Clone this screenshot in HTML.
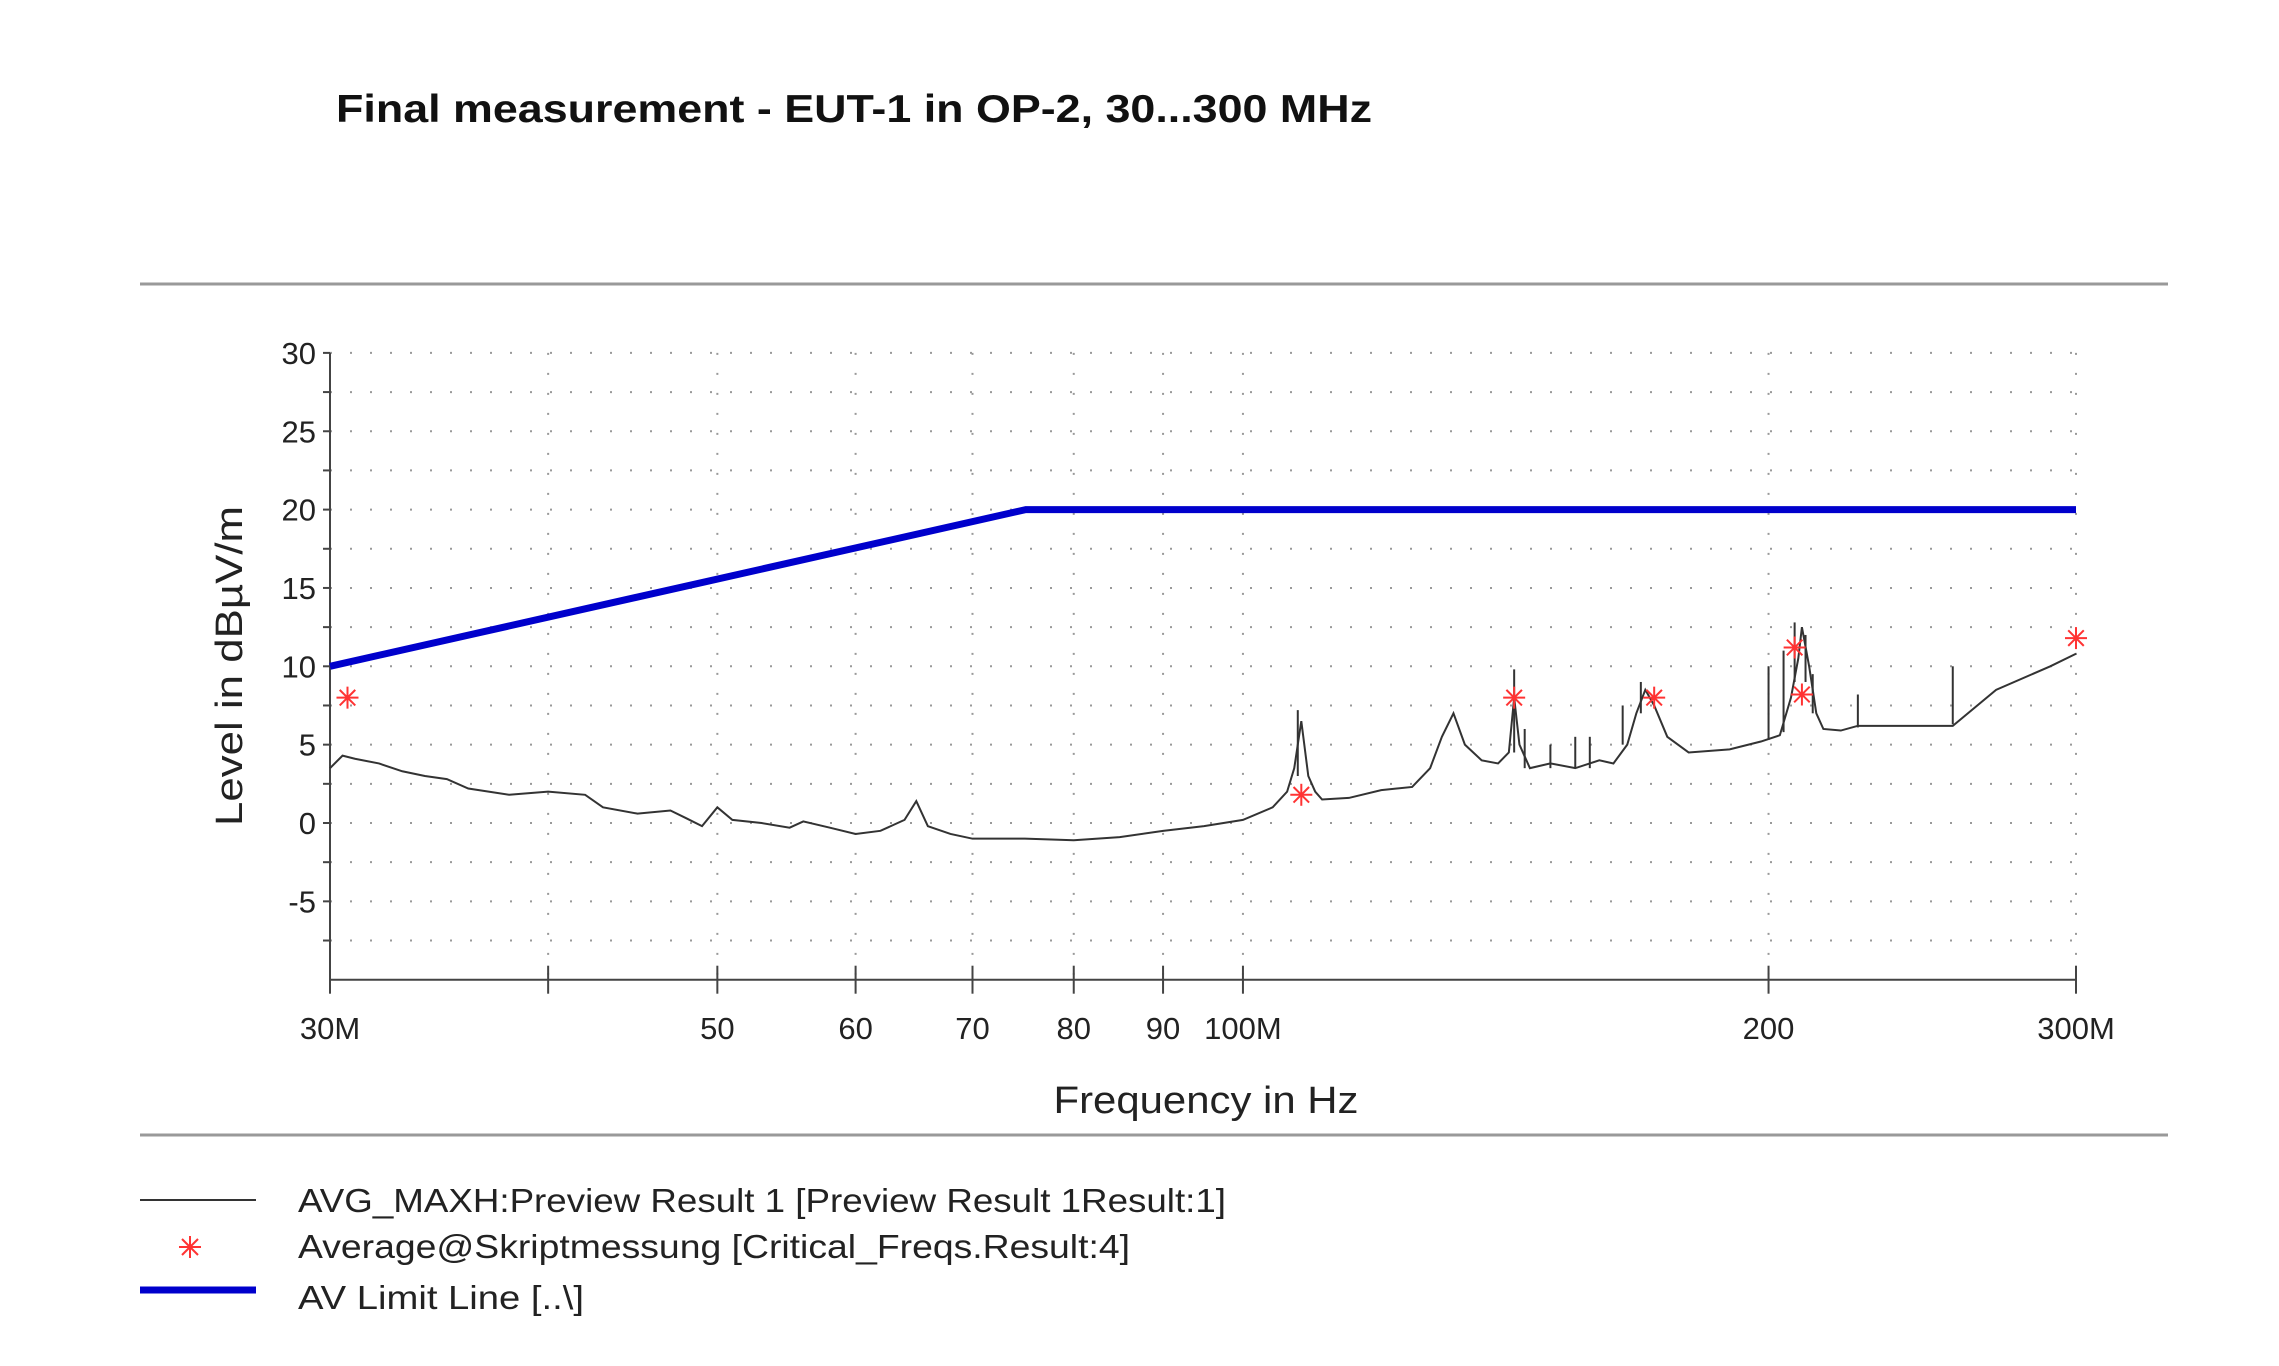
<!DOCTYPE html>
<html><head><meta charset="utf-8"><style>
html,body{margin:0;padding:0;background:#fff;}
svg{display:block;font-family:"Liberation Sans",sans-serif;}
</style></head><body>
<svg id="chart" width="2279" height="1366" viewBox="0 0 2279 1366">
<text x="336" y="122" font-size="39" font-weight="bold" fill="#111" textLength="1036" lengthAdjust="spacingAndGlyphs">Final measurement - EUT-1 in OP-2, 30...300 MHz</text>
<line x1="140" y1="284" x2="2168" y2="284" stroke="#999" stroke-width="3"/>
<line x1="140" y1="1135" x2="2168" y2="1135" stroke="#999" stroke-width="3"/>
<g id="grid"></g>
<g id="axes"></g>
<g id="series"></g>
<text x="1206" y="1113" font-size="38" text-anchor="middle" fill="#222" textLength="305" lengthAdjust="spacingAndGlyphs">Frequency in Hz</text>
<text transform="translate(242,666) rotate(-90)" font-size="38" text-anchor="middle" fill="#222" textLength="320" lengthAdjust="spacingAndGlyphs">Level in dBµV/m</text>
<g>
<line x1="140" y1="1200" x2="256" y2="1200" stroke="#333" stroke-width="2"/>
<text x="298" y="1212" font-size="33" fill="#222" textLength="928" lengthAdjust="spacingAndGlyphs">AVG_MAXH:Preview Result 1  [Preview Result 1Result:1]</text>
<g transform="translate(190,1247)" stroke="#f33" stroke-width="2">
<line x1="-11" y1="0" x2="11" y2="0"/><line x1="0" y1="-11" x2="0" y2="11"/><line x1="-8" y1="-8" x2="8" y2="8"/><line x1="-8" y1="8" x2="8" y2="-8"/>
</g>
<text x="298" y="1258" font-size="33" fill="#222" textLength="832" lengthAdjust="spacingAndGlyphs">Average@Skriptmessung  [Critical_Freqs.Result:4]</text>
<line x1="140" y1="1290" x2="256" y2="1290" stroke="#0000cc" stroke-width="7"/>
<text x="298" y="1309" font-size="33" fill="#222" textLength="286" lengthAdjust="spacingAndGlyphs">AV Limit Line  [..\]</text>
</g>
</svg>
<script>
const yTicks=[30,25,20,15,10,5,0,-5];
const xTickFreqs=[30,40,50,60,70,80,90,100,200,300];
const xTickLabels=["30M","","50","60","70","80","90","100M","200","300M"];
const traceFreqs=[30,30.5,31,32,33,34,35,36,38,40,42,43,45,47,48,49,50,51,53,55,56,58,60,62,64,65,66,68,70,75,80,85,90,95,100,104,106,107,108,109,110,111,115,120,125,128,130,132,134,137,140,142,143,144,146,150,155,160,163,166,168,170,172,175,180,190,198,203,206,208,209,211,213,215,220,225,230,245,255,270,290,300];
const traceLevels=[3.5,4.3,4.1,3.8,3.3,3.0,2.8,2.2,1.8,2.0,1.8,1.0,0.6,0.8,0.3,-0.2,1.0,0.2,0,-0.3,0.1,-0.3,-0.7,-0.5,0.2,1.4,-0.2,-0.7,-1.0,-1.0,-1.1,-0.9,-0.5,-0.2,0.2,1.0,2.0,3.5,6.5,3.0,2.0,1.5,1.6,2.1,2.3,3.5,5.5,7.0,5.0,4.0,3.8,4.5,8.0,5.0,3.5,3.8,3.5,4.0,3.8,5.0,7.0,8.5,7.5,5.5,4.5,4.7,5.2,5.6,8.0,10.5,12.5,10,7,6.0,5.9,6.2,6.2,6.2,6.2,8.5,10.0,10.8];
const spikeFreqs=[107.5,143,145,150,155,158,165,169,200,204,207,210,212,225,255];
const spikeTops=[7.2,9.8,6,5,5.5,5.5,7.5,9,10,11,12.8,12,9.5,8.2,10];
const spikeBases=[3,4.5,3.5,3.5,3.5,3.5,5,7,5.3,5.8,9,9,7,6.1,6.3];
const starFreqs=[30.7,108,143,172,207,209,300];
const starLevels=[8,1.8,8,8,11.2,8.2,11.8];
const limitFreqs=[30,75.1,300];
const limitLevels=[10,20,20];

const X0=330,X1=2076,Y0=823,PER=15.67;
const xs=f=>X0+(X1-X0)*Math.log10(f/30);
const ys=v=>Y0-v*PER;
const NS="http://www.w3.org/2000/svg";
function mk(tag,parent,attrs){const e=document.createElementNS(NS,tag);for(const k in attrs)e.setAttribute(k,attrs[k]);parent.appendChild(e);return e;}
const grid=document.getElementById('grid'),axes=document.getElementById('axes'),series=document.getElementById('series');
for(let v=30;v>-10;v-=2.5){
  const l=mk('line',grid,{x1:X0,x2:X1,y1:ys(v),y2:ys(v),stroke:'#999','stroke-width':2,'stroke-dasharray':'2 18'});
  
  
  const t=mk('line',axes,{x1:X0-7,x2:X0,y1:ys(v),y2:ys(v),stroke:'#444','stroke-width':2});
  
  
}
xTickFreqs.forEach((f,i)=>{
  const l=mk('line',grid,{x1:xs(f),x2:xs(f),y1:ys(30),y2:ys(-10),stroke:'#999','stroke-width':2,'stroke-dasharray':'2 18'});
  
  
  const t=mk('line',axes,{x1:xs(f),x2:xs(f),y1:ys(-10)-14,y2:ys(-10)+14,stroke:'#444','stroke-width':2});
  
  
  if(xTickLabels[i]){
    const tx=mk('text',axes,{x:xs(f),y:1039,'font-size':31,'text-anchor':'middle',fill:'#222'});
    tx.textContent=xTickLabels[i];
    
    
  }
});
yTicks.forEach(v=>{
  const tx=mk('text',axes,{x:X0-14,y:ys(v)+11,'font-size':31,'text-anchor':'end',fill:'#222'});
  tx.textContent=v;
  
  
});
const ax=mk('path',axes,{d:`M${X0},${ys(30)}V${ys(-10)}H${X1}`,fill:'none',stroke:'#444','stroke-width':2});


const tr=mk('polyline',series,{points:traceFreqs.map((f,i)=>xs(f)+','+ys(traceLevels[i])).join(' '),fill:'none',stroke:'#333','stroke-width':2});


spikeFreqs.forEach((f,i)=>{
  const s=mk('line',series,{x1:xs(f),x2:xs(f),y1:ys(spikeBases[i]),y2:ys(spikeTops[i]),stroke:'#333','stroke-width':2});
  
  
});
const lim=mk('polyline',series,{points:limitFreqs.map((f,i)=>xs(f)+','+ys(limitLevels[i])).join(' '),fill:'none',stroke:'#0000cc','stroke-width':7});


starFreqs.forEach((f,i)=>{
  const g=mk('g',series,{transform:`translate(${xs(f)},${ys(starLevels[i])})`,stroke:'#f33','stroke-width':2});
  
  
  for(let a=0;a<180;a+=45){const r=a*Math.PI/180;mk('line',g,{x1:-11*Math.cos(r),y1:-11*Math.sin(r),x2:11*Math.cos(r),y2:11*Math.sin(r)});}
});
</script>
</body></html>
